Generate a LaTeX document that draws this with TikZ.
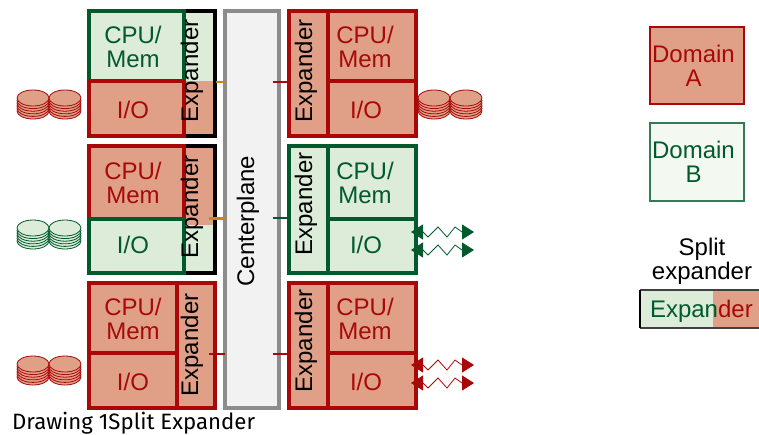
\documentclass[tikz,border=0pt]{standalone}
\usepackage{fontspec}
\setmainfont{Liberation Sans}
\newfontfamily\capfont{Fira Sans}
\usetikzlibrary{arrows.meta}
\definecolor{dred}{HTML}{A80808}
\definecolor{dgreen}{HTML}{005A2B}
\definecolor{salm}{HTML}{E0A088}
\definecolor{lgreen}{HTML}{DDEBD9}
\definecolor{pgreen}{HTML}{F3F8F1}
\definecolor{orng}{HTML}{C58A12}
\definecolor{cpgray}{HTML}{8C8C8C}
\definecolor{cpfill}{HTML}{F2F2F2}
\tikzset{
  x=1pt,y=-1pt,
  boxA/.style={draw=dred,fill=salm,line width=3.1pt,inner sep=0pt,outer sep=0pt},
  boxB/.style={draw=dgreen,fill=lgreen,line width=3.1pt,inner sep=0pt,outer sep=0pt},
  boxK/.style={draw=black,line width=3.1pt,inner sep=0pt,outer sep=0pt},
  boxC/.style={draw=cpgray,fill=cpfill,line width=3.1pt,inner sep=0pt,outer sep=0pt},
  fillA/.style={fill=salm,inner sep=0pt,outer sep=0pt},
  fillB/.style={fill=lgreen,inner sep=0pt,outer sep=0pt},
  legA/.style={draw=dred,fill=salm,line width=1.5pt,inner sep=0pt,outer sep=0pt},
  legB/.style={draw=dgreen!80,fill=pgreen,line width=1.5pt,inner sep=0pt,outer sep=0pt},
  lab/.style={font=\fontsize{24}{24}\selectfont,align=center,inner sep=0pt,outer sep=0pt},
  labA/.style={lab,text=dred},
  labB/.style={lab,text=dgreen},
  labK/.style={lab,text=black},
  vert/.style={lab,text=black,rotate=90},
  stubA/.style={draw=dred,line width=2pt},
  stubB/.style={draw=dgreen,line width=2.6pt},
  stubO/.style={draw=orng,line width=2pt},
  stubP/.style={draw=orng,line width=3pt},
  wave/.style={line width=0.8pt,{Triangle[length=12pt,width=15pt]}-{Triangle[length=12pt,width=15pt]}},
}
% name, style, x1, y1, x2, y2
\newcommand{\bx}[6]{\node[#2,minimum width={(#5-#3)*1pt},minimum height={(#6-#4)*1pt}] (#1) at ({(#3+#5)/2},{(#4+#6)/2}) {};}
% x centre, y top of stack, fill, draw
\newcommand{\diskpile}[4]{%
  \foreach \k in {5,4,3,2,1,0}{%
    \draw[draw=#4,fill=#3,line width=0.8pt] (#1,#2+8+2.6*\k) ellipse [x radius=16,y radius=8];}}
% wavy connector between named coordinates
\newcommand{\wavy}[3]{\draw[wave,draw=#3] (#1) -- ++(12,0) -- ++(5,5) -- ++(10,-10) -- ++(9,10) -- ++(8,-10) -- ++(7,5) -- (#2);}
\begin{document}
\begin{tikzpicture}
\useasboundingbox (0,0) rectangle (759,434);

% centerplane
\bx{cp}{boxC}{225}{11}{279}{408}

% left row 1
\bx{lf1a}{fillB}{184}{11}{215}{81}
\bx{lf1b}{fillA}{184}{81}{215}{136}
\bx{lx1}{boxK}{177}{11}{215}{136}
\bx{lc1}{boxB}{89}{11}{184}{81}
\bx{li1}{boxA}{89}{81}{184}{136}
% left row 2
\bx{lf2a}{fillA}{184}{146}{215}{225}
\bx{lf2b}{fillB}{184}{225}{215}{273}
\bx{lx2}{boxK}{177}{146}{215}{273}
\bx{lc2}{boxA}{89}{146}{184}{219}
\bx{li2}{boxB}{89}{219}{184}{273}
% left row 3
\bx{lc3}{boxA}{89}{283}{177}{353}
\bx{li3}{boxA}{89}{353}{177}{408}
\bx{lx3}{boxA}{177}{283}{215}{408}

% right row 1
\bx{rx1}{boxA}{289}{11}{328}{136}
\bx{rc1}{boxA}{328}{11}{416}{81}
\bx{ri1}{boxA}{328}{81}{416}{136}
% right row 2
\bx{rx2}{boxB}{289}{146}{328}{273}
\bx{rc2}{boxB}{328}{146}{416}{219}
\bx{ri2}{boxB}{328}{219}{416}{273}
% right row 3
\bx{rx3}{boxA}{289}{283}{328}{408}
\bx{rc3}{boxA}{328}{283}{416}{353}
\bx{ri3}{boxA}{328}{353}{416}{408}

% stubs
\coordinate (sl1) at (216,82);
\coordinate (sl2) at (209,218);
\coordinate (sl3) at (209,354);
\coordinate (sr1) at (273,82);
\coordinate (sr2) at (273,218);
\coordinate (sr3) at (273,354);
\draw[stubO] (sl1) -- (sl1 -| cp.west);
\draw[stubP] (sl2) -- (sl2 -| cp.west);
\draw[stubA] (sl3) -- (sl3 -| cp.west);
\draw[stubA] (sr1) -- (sr1 -| rx1.west);
\draw[stubB] (sr2) -- (sr2 -| rx2.west);
\draw[stubA] (sr3) -- (sr3 -| rx3.west);

% labels left
\node[labB] (tlc1) at (133,47) {CPU/\\Mem};
\node[labA] (tli1) at (133,110) {I/O};
\node[labA] (tlc2) at (133,183) {CPU/\\Mem};
\node[labB] (tli2) at (133,244.5) {I/O};
\node[labA] (tlc3) at (133,319) {CPU/\\Mem};
\node[labA] (tli3) at (133,381.5) {I/O};
% labels right
\node[labA] (trc1) at (365,47) {CPU/\\Mem};
\node[labA] (tri1) at (366,110) {I/O};
\node[labB] (trc2) at (365,183) {CPU/\\Mem};
\node[labB] (tri2) at (366,245) {I/O};
\node[labA] (trc3) at (365,319) {CPU/\\Mem};
\node[labA] (tri3) at (366,381.5) {I/O};
% expander labels
\node[vert] (tlx1) at (192,71) {Expander};
\node[vert] (tlx2) at (192,207) {Expander};
\node[vert] (tlx3) at (192,345) {Expander};
\node[vert] (trx1) at (306,71) {Expander};
\node[vert] (trx2) at (306,204) {Expander};
\node[vert] (trx3) at (306,341) {Expander};
\node[vert] (tcp) at (248,221) {Centerplane};

% disks
\diskpile{33}{90}{salm}{dred}
\diskpile{65}{90}{salm}{dred}
\diskpile{33}{220}{lgreen}{dgreen}
\diskpile{65}{220}{lgreen}{dgreen}
\diskpile{33}{356}{salm}{dred}
\diskpile{65}{356}{salm}{dred}
\diskpile{434}{90}{salm}{dred}
\diskpile{466}{90}{salm}{dred}

% wavy links
\coordinate (wa1) at (411,232); \coordinate (wb1) at (474,232);
\coordinate (wa2) at (411,250); \coordinate (wb2) at (474,250);
\coordinate (wa3) at (411,365); \coordinate (wb3) at (474,365);
\coordinate (wa4) at (411,383); \coordinate (wb4) at (474,383);
\wavy{wa1}{wb1}{dgreen}
\wavy{wa2}{wb2}{dgreen}
\wavy{wa3}{wb3}{dred}
\wavy{wa4}{wb4}{dred}

% legend
\bx{lga}{legA}{650}{27}{744}{104}
\bx{lgb}{legB}{650}{123}{744}{201}
\node[labA] (tlga) at (693.5,66) {Domain\\A};
\node[labB] (tlgb) at (693.5,162) {Domain\\B};
\node[labK] (tsplit) at (702,261) {Split\\expander};
\bx{lsa}{fillB}{640}{290}{713}{328}
\bx{lsb}{fillA}{713}{290}{765}{328}
\draw[line width=1.8pt,draw=black!75] (lsa.north west) -- (lsb.north east);
\draw[line width=1.8pt,draw=black!75] (lsa.south west) -- (lsb.south east);
\draw[line width=2.4pt,draw=black] (lsa.north west) -- (lsa.south west);
\node[lab,anchor=base west] (tse) at (650,317) {\textcolor{dgreen}{Expan}\textcolor{dred}{der}};

% caption
\node[inner sep=0pt,anchor=base west,font=\capfont\fontsize{22.2}{24}\selectfont] (cap) at (12,429.5) {Drawing 1Split Expander};
\end{tikzpicture}
\end{document}
